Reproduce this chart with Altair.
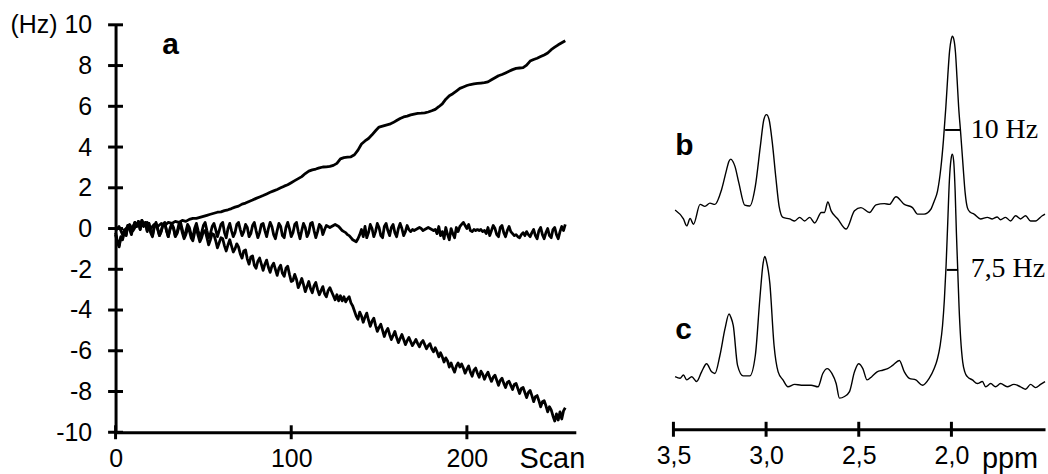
import altair as alt
import pandas as pd

# ---------------- panel a: frequency drift (Hz) vs scan ----------------
scan_coarse = list(range(0, 257, 2))
scan_fine = list(range(0, 257))

drift_up = [
    -0.1, 0.1, -0.3, 0.0, 0.2, -0.1, 0.2, 0.3, 0.1, 0.3,
    0.0, 0.2, 0.1, 0.25, 0.15, 0.3, 0.25, 0.35, 0.3, 0.4,
    0.35, 0.45, 0.5, 0.5, 0.55, 0.6, 0.65, 0.7, 0.75, 0.8,
    0.82, 0.88, 0.92, 0.98, 1.05, 1.1, 1.2, 1.25, 1.33, 1.4,
    1.48, 1.55, 1.62, 1.7, 1.78, 1.85, 1.92, 2.0, 2.08, 2.15,
    2.25, 2.35, 2.45, 2.55, 2.7, 2.82, 2.88, 2.92, 2.98, 3.02,
    3.03, 3.05, 3.1, 3.2, 3.42, 3.48, 3.5, 3.52, 3.62, 3.85,
    4.15, 4.3, 4.42, 4.6, 4.8, 4.98, 5.03, 5.08, 5.12, 5.2,
    5.3, 5.4, 5.48, 5.52, 5.58, 5.62, 5.65, 5.66, 5.68, 5.72,
    5.78, 5.85, 5.98, 6.12, 6.35, 6.52, 6.62, 6.75, 6.88, 6.95,
    7.02, 7.07, 7.1, 7.12, 7.14, 7.16, 7.2, 7.3, 7.4, 7.5,
    7.56, 7.64, 7.72, 7.8, 7.86, 7.88, 7.9, 8.02, 8.22, 8.3,
    8.36, 8.44, 8.52, 8.62, 8.78, 8.9, 9.02, 9.12, 9.22,
]

drift_flat = [
    -0.2, -0.6, -0.85, -0.4, -0.55, -0.1, -0.35, 0.15, 0.0, -0.3, 0.05, 0.3, 0.1, 0.35, -0.05, 0.4,
    0.15, 0.3, -0.15, 0.25, -0.2, -0.4, 0.05, 0.3, 0.0, -0.35, -0.1, 0.2, 0.3, -0.1, -0.4, 0.0,
    0.25, 0.05, -0.35, -0.2, 0.2, 0.3, -0.05, -0.4, -0.15, 0.2, 0.05, -0.3, -0.45, 0.0, 0.25, -0.1,
    -0.4, -0.2, 0.15, 0.3, -0.1, -0.45, -0.25, 0.1, 0.25, -0.05, -0.4, -0.1, 0.2, 0.3, -0.2, -0.45,
    0.0, 0.25, -0.1, -0.4, -0.2, 0.2, 0.3, -0.05, -0.35, -0.15, 0.2, 0.05, -0.4, -0.25, 0.15, 0.3,
    -0.1, -0.45, -0.2, 0.2, 0.25, -0.1, -0.4, 0.0, 0.3, 0.1, -0.3, -0.5, -0.1, 0.25, 0.1, -0.35,
    -0.45, 0.05, 0.3, 0.0, -0.4, -0.2, 0.2, 0.3, -0.15, -0.5, -0.1, 0.25, 0.05, -0.4, -0.2, 0.25,
    0.3, -0.1, -0.45, -0.15, 0.2, 0.1, -0.3, -0.05, 0.15, 0.1, 0.05, 0.1, 0.15, 0.2, 0.15, 0.1,
    0.0, -0.1, -0.15, -0.2, -0.3, -0.35, -0.45, -0.55, -0.6, -0.65, -0.5, -0.3, -0.05, -0.4, 0.1, -0.45,
    -0.2, 0.2, 0.0, -0.4, -0.15, 0.25, 0.05, -0.35, -0.45, 0.1, 0.25, -0.1, -0.35, 0.05, 0.2, -0.2,
    -0.4, 0.0, 0.25, 0.0, -0.35, -0.15, 0.15, -0.05, -0.15, -0.05, -0.1, -0.05, 0.0, 0.05, 0.0, -0.1,
    -0.05, 0.0, 0.05, 0.0, -0.05, -0.1, -0.05, -0.25, 0.1, -0.35, -0.15, -0.5, 0.05, -0.3, -0.55, 0.0,
    -0.25, -0.45, 0.05, -0.15, 0.1, 0.2, 0.3, 0.15, 0.0, 0.2, -0.1, -0.15, -0.05, -0.1, -0.05, -0.1,
    -0.05, -0.15, -0.1, -0.25, 0.05, -0.35, -0.1, 0.15, 0.0, -0.3, -0.4, 0.05, 0.15, -0.2, -0.4, -0.1,
    0.1, -0.15, -0.25, -0.35, -0.3, -0.4, -0.45, -0.3, -0.2, -0.35, -0.15, -0.3, -0.4, -0.2, -0.05, -0.35,
    -0.5, -0.1, 0.05, -0.3, -0.5, -0.2, 0.0, -0.35, -0.45, -0.05, 0.05, -0.3, -0.5, -0.15, 0.1, -0.1,
    0.2,
]

drift_down = [
    -0.3, -0.65, -0.9, -0.45, -0.5, -0.05, -0.3, 0.15, 0.05, -0.25, 0.1, 0.3, 0.1, 0.35, -0.05, 0.4,
    0.2, 0.3, -0.1, 0.25, -0.15, -0.35, 0.1, 0.25, -0.05, -0.35, -0.15, 0.2, 0.25, -0.1, -0.4, -0.05,
    0.15, 0.0, -0.4, -0.25, 0.05, 0.15, -0.2, -0.5, -0.3, 0.0, -0.1, -0.45, -0.6, -0.2, 0.0, -0.35,
    -0.65, -0.45, -0.15, -0.1, -0.45, -0.8, -0.55, -0.25, -0.3, -0.6, -0.95, -0.7, -0.45, -0.5, -0.85, -1.1,
    -0.8, -0.55, -0.85, -1.15, -1.0, -0.75, -0.9, -1.25, -1.45, -1.1, -1.05, -1.5, -1.75, -1.4, -1.35, -1.8,
    -1.95, -1.6, -1.45, -1.75, -2.05, -1.75, -1.55, -1.9, -2.15, -1.85, -1.7, -2.0, -2.3, -1.95, -1.8, -2.2,
    -2.35, -1.95, -1.85, -2.25, -2.6, -2.55, -2.25, -2.5, -2.9, -2.7, -2.45, -2.75, -3.1, -2.85, -2.6, -2.95,
    -3.15, -2.8, -2.65, -3.0, -3.25, -3.05, -2.85, -3.2, -3.35, -3.05, -2.9, -3.1, -3.3, -3.5, -3.25, -3.55,
    -3.3, -3.55, -3.35, -3.6, -3.45, -3.35, -3.65, -3.8, -4.05, -4.3, -4.45, -4.1, -4.3, -4.6, -4.35, -4.15,
    -4.5, -4.8, -4.55, -4.4, -4.75, -5.05, -4.85, -4.7, -5.0, -5.3, -5.05, -4.9, -5.2, -5.45, -5.25, -5.05,
    -5.35, -5.6, -5.4, -5.2, -5.45, -5.7, -5.5, -5.35, -5.55, -5.75, -5.6, -5.45, -5.65, -5.8, -5.6, -5.5,
    -5.7, -5.9, -5.75, -5.65, -5.9, -6.05, -5.85, -6.05, -6.3, -6.1, -6.3, -6.55, -6.35, -6.5, -6.8, -6.6,
    -6.85, -7.05, -6.75, -6.6, -6.8, -6.65, -6.85, -7.1, -6.9, -6.75, -7.05, -7.25, -6.95, -6.85, -7.1, -7.3,
    -7.0, -7.15, -7.4, -7.2, -7.05, -7.3, -7.5, -7.3, -7.2, -7.45, -7.7, -7.45, -7.35, -7.6, -7.8, -7.55,
    -7.5, -7.7, -7.9, -7.65, -7.6, -7.85, -8.1, -7.85, -7.8, -8.05, -8.3, -8.05, -7.95, -8.2, -8.5, -8.25,
    -8.2, -8.45, -8.75, -8.5, -8.45, -8.7, -9.0, -8.75, -8.9, -9.2, -9.45, -9.1, -9.4, -9.0, -9.35, -8.95,
    -8.8,
]

hz_ticks = [-10, -8, -6, -4, -2, 0, 2, 4, 6, 8, 10]
scan_ticks = [0, 100, 200]

# ---------------- panels b, c: spectra vs ppm ----------------
ppm_b = [3.491, 3.446, 3.428, 3.41, 3.392, 3.356, 3.33, 3.303, 3.276, 3.24,
         3.213, 3.201, 3.19, 3.179, 3.168, 3.147, 3.115, 3.088, 3.058, 3.031,
         3.012, 2.998, 2.984, 2.966, 2.948, 2.93, 2.909, 2.873, 2.846, 2.819,
         2.792, 2.765, 2.738, 2.702, 2.685, 2.667, 2.649, 2.613, 2.568, 2.523,
         2.488, 2.442, 2.407, 2.362, 2.335, 2.299, 2.254, 2.21, 2.183, 2.147,
         2.111, 2.093, 2.075, 2.057, 2.043, 2.030, 2.019, 2.010, 2.001, 1.995,
         1.987, 1.978, 1.970, 1.961, 1.950, 1.937, 1.926, 1.914, 1.900, 1.878,
         1.843, 1.806, 1.78, 1.753, 1.735, 1.708, 1.681, 1.654, 1.627, 1.60,
         1.573, 1.546, 1.51, 1.495]
int_b = [2.0, -0.2, -1.9, -0.1, -1.5, 3.4, 2.9, 3.7, 3.4, 7.1,
         12.0, 14.0, 14.6, 14.0, 12.8, 8.7, 3.2, 3.0, 7.9, 17.8,
         24.4, 25.6, 24.4, 18.5, 10.3, 3.0, 0.2, -0.2, -0.7, 0.2,
         -0.7, 0.2, -1.2, 1.4, 1.4, 4.0, 1.8, -0.2, -2.7, 1.8,
         2.6, 1.4, 3.3, 3.6, 3.4, 5.3, 3.4, 2.6, 1.0, 1.0,
         2.2, 4.2, 6.7, 12.4, 19.3, 27.5, 35.6, 41.3, 44.2, 45.0,
         44.2, 40.9, 34.8, 27.5, 21.0, 12.8, 6.3, 2.6, 1.5, 1.0,
         -0.2, 0.2, -0.2, 0.3, -0.4, 0.2, -0.7, 0.6, -0.2, 0.6,
         -0.7, -0.7, 0.6, 1.0]

ppm_c = [3.491, 3.464, 3.446, 3.428, 3.401, 3.375, 3.348, 3.321, 3.294, 3.276,
         3.249, 3.222, 3.2, 3.19, 3.177, 3.154, 3.124, 3.088, 3.058, 3.034,
         3.016, 3.007, 2.998, 2.98, 2.957, 2.935, 2.909, 2.882, 2.846, 2.81,
         2.757, 2.72, 2.694, 2.67, 2.645, 2.622, 2.604, 2.577, 2.55, 2.523,
         2.501, 2.478, 2.455, 2.43, 2.401, 2.371, 2.344, 2.317, 2.281, 2.254,
         2.227, 2.192, 2.156, 2.12, 2.093, 2.075, 2.061, 2.048, 2.038, 2.029,
         2.020, 2.011, 2.002, 1.995, 1.988, 1.980, 1.973, 1.966, 1.959, 1.950,
         1.939, 1.928, 1.914, 1.887, 1.86, 1.833, 1.815, 1.788, 1.762, 1.735,
         1.699, 1.663, 1.627, 1.60, 1.573, 1.546, 1.519, 1.495]
int_c = [1.9, 1.5, 2.3, 1.1, 1.9, 0.7, 3.1, 5.1, 3.1, 2.7,
         7.2, 13.7, 17.4, 16.6, 14.5, 4.7, 2.1, 2.1, 7.2, 21.0,
         30.0, 31.6, 30.4, 25.1, 9.6, 3.1, 1.1, -0.6, 0.0, -0.2,
         -0.2, -0.6, 2.7, 3.9, 2.7, 0.2, -3.4, -3.0, -1.8, 3.1,
         5.1, 3.9, 1.1, 1.9, 3.1, 3.5, 3.9, 4.7, 5.9, 3.1,
         1.5, 1.1, -0.2, 1.5, 3.9, 6.4, 9.6, 14.5, 21.0, 29.2,
         39.8, 50.4, 55.7, 56.9, 55.3, 47.9, 37.3, 28.4, 19.4, 11.2,
         5.5, 3.1, 1.9, 1.1, 0.2, 0.7, -0.6, 0.2, -0.6, 0.2,
         -0.6, 0.0, -0.6, -1.2, 0.0, -0.8, 0.0, 0.7]

ppm_ticks = [3.5, 3.0, 2.5, 2.0]

# half-height linewidth markers (ppm span and intensity level)
fwhm_b = [2.034, 1.953, 21.8]
fwhm_c = [2.025, 1.964, 28.3]

# vertical stacking of the two spectra
offset_b = 52.2
offset_c = 11.1

SANS = "Liberation Sans"
SERIF = "Liberation Serif"
BLACK = "black"

# ---------------- panel a ----------------
traces = pd.concat([
    pd.DataFrame({"scan": scan_coarse, "hz": drift_up, "trace": "up"}),
    pd.DataFrame({"scan": scan_fine, "hz": drift_flat, "trace": "flat"}),
    pd.DataFrame({"scan": scan_fine, "hz": drift_down, "trace": "down"}),
])

axis_common = dict(title=None, ticks=False, grid=False, domainWidth=3,
                   domainColor=BLACK, labelFont=SANS, labelFontSize=25,
                   labelColor=BLACK, labelOverlap=False)

x_a = alt.X("scan:Q", scale=alt.Scale(domain=[0, 262], nice=False, zero=False),
            axis=alt.Axis(values=scan_ticks, labelFlush=False, labelPadding=14,
                          format="d", **axis_common))
y_a = alt.Y("hz:Q", scale=alt.Scale(domain=[-10, 10], nice=False, zero=False),
            axis=alt.Axis(values=hz_ticks, labelPadding=24,
                          labelExpr="datum.value == 10 ? '(Hz) 10' : toString(datum.value)",
                          **axis_common))

lines_a = alt.Chart(traces).mark_line(color=BLACK, strokeWidth=2.8, strokeJoin="round").encode(
    x=x_a, y=y_a, detail="trace:N")

ytick_a = alt.Chart(pd.DataFrame({"hz": hz_ticks, "scan": [0] * len(hz_ticks)})).mark_tick(
    orient="horizontal", size=15, thickness=3, color=BLACK, opacity=1).encode(x=x_a, y=y_a)
xtick_a = alt.Chart(pd.DataFrame({"scan": scan_ticks, "hz": [-10] * len(scan_ticks)})).mark_tick(
    orient="vertical", size=14, thickness=3, color=BLACK, opacity=1).encode(x=x_a, y=y_a)

lab_a = alt.Chart(pd.DataFrame({"scan": [26.6], "hz": [8.56], "t": ["a"]})).mark_text(
    align="left", baseline="alphabetic", font=SANS, fontSize=30, fontWeight="bold", color=BLACK
).encode(x=x_a, y=y_a, text="t:N")
lab_scan = alt.Chart(pd.DataFrame({"scan": [229.9], "hz": [-11.74], "t": ["Scan"]})).mark_text(
    align="left", baseline="alphabetic", font=SANS, fontSize=29, color=BLACK
).encode(x=x_a, y=y_a, text="t:N")

left = alt.layer(lines_a, ytick_a, xtick_a, lab_a, lab_scan).properties(width=462, height=409)

# ---------------- panels b, c ----------------
spectra = pd.concat([
    pd.DataFrame({"ppm": ppm_b, "u": [v + offset_b for v in int_b], "spec": "b"}),
    pd.DataFrame({"ppm": ppm_c, "u": [v + offset_c for v in int_c], "spec": "c"}),
])

x_r = alt.X("ppm:Q", scale=alt.Scale(domain=[1.495, 3.5], reverse=True, nice=False, zero=False),
            axis=alt.Axis(values=ppm_ticks, labelFlush=False, labelPadding=14,
                          labelExpr="replace(format(datum.value, '.1f'), '.', ',')",
                          **axis_common))
y_r = alt.Y("u:Q", scale=alt.Scale(domain=[0, 100], nice=False, zero=False), axis=None)

lines_r = alt.Chart(spectra).mark_line(color=BLACK, strokeWidth=1.4, interpolate="monotone").encode(
    x=x_r, y=y_r, detail="spec:N")

markers = pd.DataFrame({
    "ppm": [fwhm_b[0], fwhm_c[0]],
    "ppm2": [fwhm_b[1], fwhm_c[1]],
    "u": [fwhm_b[2] + offset_b, fwhm_c[2] + offset_c],
})
rules_r = alt.Chart(markers).mark_rule(color=BLACK, strokeWidth=2).encode(x=x_r, x2="ppm2:Q", y=y_r)

xtick_r = alt.Chart(pd.DataFrame({"ppm": ppm_ticks, "u": [0] * len(ppm_ticks)})).mark_tick(
    orient="vertical", size=15, thickness=3, color=BLACK, opacity=1).encode(x=x_r, y=y_r)

lab_bc = alt.Chart(pd.DataFrame({"ppm": [3.49, 3.49], "u": [67.7, 22.4], "t": ["b", "c"]})).mark_text(
    align="left", baseline="alphabetic", font=SANS, fontSize=30, fontWeight="bold", color=BLACK
).encode(x=x_r, y=y_r, text="t:N")
lab_hz = alt.Chart(pd.DataFrame({"ppm": [1.896, 1.896], "u": [71.9, 37.6], "t": ["10 Hz", "7,5 Hz"]})).mark_text(
    align="left", baseline="alphabetic", font=SERIF, fontSize=28, color=BLACK
).encode(x=x_r, y=y_r, text="t:N")
lab_ppm = alt.Chart(pd.DataFrame({"ppm": [1.835], "u": [-9.6], "t": ["ppm"]})).mark_text(
    align="left", baseline="alphabetic", font=SANS, fontSize=29, color=BLACK
).encode(x=x_r, y=y_r, text="t:N")

right = alt.layer(lines_r, rules_r, xtick_r, lab_bc, lab_hz, lab_ppm).properties(width=373, height=406)

chart = alt.hconcat(left, right, spacing=70).properties(
    padding={"left": 10, "top": 12, "right": 0, "bottom": 0}
).configure_view(strokeWidth=0)

chart.save("out.html", embed_options={"renderer": "svg", "actions": False})
